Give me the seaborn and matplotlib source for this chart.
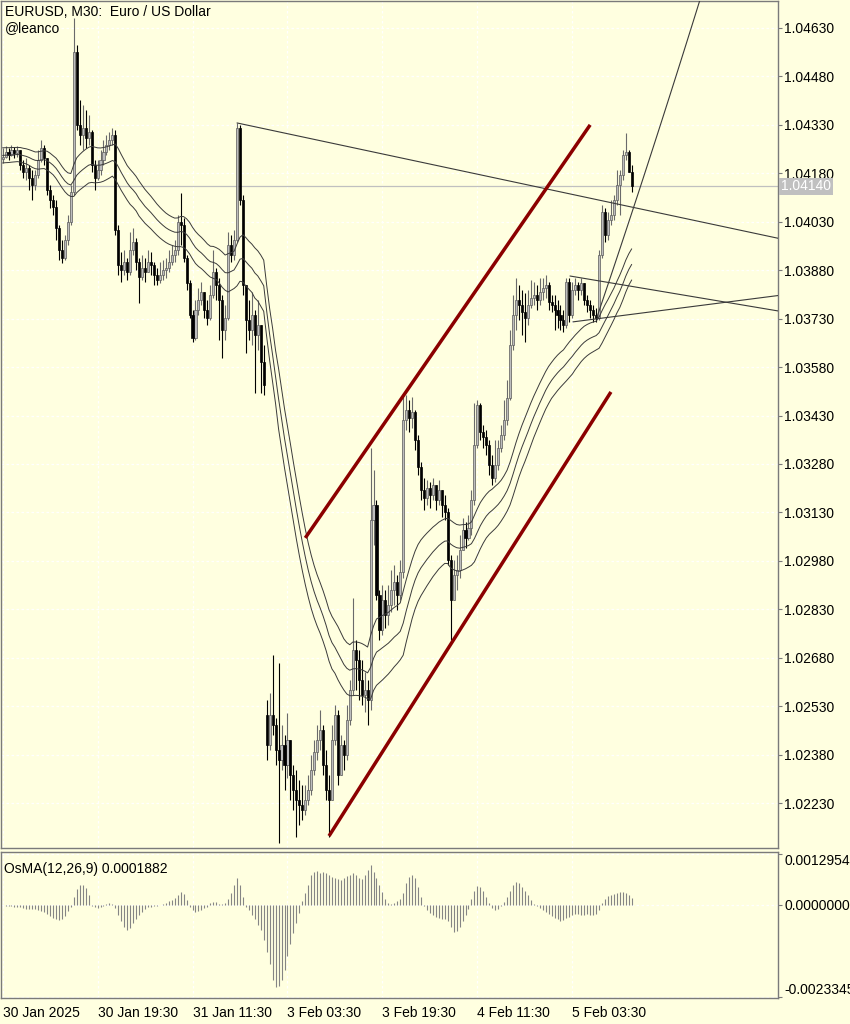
import numpy as np
import pandas as pd
import matplotlib
matplotlib.use("Agg")
import matplotlib.pyplot as plt
import matplotlib.transforms as mtransforms
import seaborn as sns

# EURUSD M30, one value per bar, 30 Jan 2025 03:30 -> 5 Feb 2025 13:30
closes = [
    1.04231, 1.04246, 1.04237, 1.04252, 1.04243, 1.04252, 1.04206, 1.04184, 1.04197, 1.04166,
    1.04144, 1.04175, 1.04221, 1.04259, 1.04228, 1.04129, 1.04098, 1.04076, 1.04011, 1.03943,
    1.03918, 1.03974, 1.04030, 1.04122, 1.04556, 1.04330, 1.04299, 1.04321, 1.04290, 1.04308,
    1.04206, 1.04166, 1.04191, 1.04221, 1.04246, 1.04268, 1.04283, 1.04299, 1.04005, 1.03896,
    1.03881, 1.03906, 1.03875, 1.03943, 1.03968, 1.03906, 1.03859, 1.03887, 1.03875, 1.03906,
    1.03896, 1.03865, 1.03850, 1.03865, 1.03881, 1.03887, 1.03906, 1.03927, 1.03943, 1.04030,
    1.04020, 1.03918, 1.03841, 1.03742, 1.03670, 1.03757, 1.03788, 1.03813, 1.03757, 1.03732,
    1.03803, 1.03875, 1.03834, 1.03788, 1.03695, 1.03732, 1.03958, 1.03927, 1.03974, 1.04321,
    1.04098, 1.03834, 1.03726, 1.03695, 1.03742, 1.03680, 1.03711, 1.03596, 1.03525, 1.02410,
    1.02503, 1.02472, 1.02394, 1.02364, 1.02410, 1.02348, 1.02425, 1.02317, 1.02271, 1.02239,
    1.02224, 1.02209, 1.02239, 1.02271, 1.02333, 1.02388, 1.02425, 1.02456, 1.02348, 1.02271,
    1.02239, 1.02425, 1.02503, 1.02317, 1.02410, 1.02379, 1.02487, 1.02580, 1.02704, 1.02673,
    1.02611, 1.02565, 1.02580, 1.02549, 1.03107, 1.03153, 1.02874, 1.02766, 1.02859, 1.02813,
    1.02844, 1.02890, 1.02915, 1.02874, 1.02946, 1.03416, 1.03447, 1.03423, 1.03441, 1.03354,
    1.03271, 1.03200, 1.03175, 1.03206, 1.03184, 1.03215, 1.03168, 1.03200, 1.03153, 1.03131,
    1.02983, 1.02859, 1.02936, 1.02952, 1.03014, 1.03076, 1.03051, 1.03082, 1.03168, 1.03339,
    1.03463, 1.03379, 1.03364, 1.03339, 1.03277, 1.03237, 1.03277, 1.03330, 1.03370, 1.03416,
    1.03484, 1.03649, 1.03742, 1.03788, 1.03772, 1.03751, 1.03732, 1.03772, 1.03794, 1.03803,
    1.03788, 1.03813, 1.03825, 1.03834, 1.03782, 1.03772, 1.03757, 1.03742, 1.03726, 1.03711,
    1.03844, 1.03742, 1.03819, 1.03834, 1.03819, 1.03841, 1.03788, 1.03772, 1.03757, 1.03742,
    1.03732, 1.03927, 1.04060, 1.03989, 1.04036, 1.04051, 1.04098, 1.04144, 1.04175, 1.04237,
    1.04246, 1.04184, 1.04140,
]
highs = [
    1.04259, 1.04265, 1.04259, 1.04268, 1.04262, 1.04265, 1.04252, 1.04221, 1.04228, 1.04206,
    1.04191, 1.04191, 1.04252, 1.04283, 1.04268, 1.04221, 1.04144, 1.04113, 1.04098, 1.04020,
    1.03974, 1.03989, 1.04051, 1.04144, 1.04661, 1.04578, 1.04407, 1.04392, 1.04376, 1.04361,
    1.04314, 1.04221, 1.04221, 1.04252, 1.04283, 1.04299, 1.04308, 1.04321, 1.04314, 1.04020,
    1.03937, 1.03943, 1.03918, 1.03999, 1.04011, 1.03980, 1.03918, 1.03927, 1.03918, 1.03943,
    1.03937, 1.03906, 1.03887, 1.03906, 1.03912, 1.03918, 1.03943, 1.03958, 1.03974, 1.04051,
    1.04119, 1.04042, 1.03927, 1.03850, 1.03757, 1.03788, 1.03825, 1.03844, 1.03813, 1.03788,
    1.03834, 1.03943, 1.03887, 1.03856, 1.03803, 1.03772, 1.03999, 1.03989, 1.04005, 1.04336,
    1.04330, 1.04113, 1.03834, 1.03788, 1.03813, 1.03757, 1.03788, 1.03695, 1.03649, 1.02549,
    1.02571, 1.02689, 1.02494, 1.02664, 1.02472, 1.02441, 1.02509, 1.02410, 1.02348, 1.02333,
    1.02301, 1.02286, 1.02286, 1.02317, 1.02379, 1.02425, 1.02472, 1.02518, 1.02472, 1.02394,
    1.02317, 1.02472, 1.02534, 1.02518, 1.02441, 1.02425, 1.02534, 1.02611, 1.02865, 1.02735,
    1.02704, 1.02673, 1.02636, 1.02611, 1.03330, 1.03262, 1.03168, 1.02890, 1.02905, 1.02890,
    1.02905, 1.02952, 1.02967, 1.02936, 1.02983, 1.03488, 1.03494, 1.03478, 1.03488, 1.03447,
    1.03370, 1.03286, 1.03237, 1.03231, 1.03224, 1.03237, 1.03215, 1.03231, 1.03200, 1.03184,
    1.03144, 1.02998, 1.02983, 1.02998, 1.03060, 1.03113, 1.03101, 1.03122, 1.03200, 1.03469,
    1.03478, 1.03469, 1.03401, 1.03385, 1.03354, 1.03308, 1.03354, 1.03354, 1.03401, 1.03478,
    1.03540, 1.03695, 1.03803, 1.03856, 1.03834, 1.03819, 1.03810, 1.03819, 1.03850, 1.03844,
    1.03834, 1.03856, 1.03856, 1.03865, 1.03844, 1.03803, 1.03803, 1.03788, 1.03772, 1.03757,
    1.03856, 1.03856, 1.03844, 1.03856, 1.03844, 1.03856, 1.03834, 1.03803, 1.03788, 1.03772,
    1.03763, 1.03943, 1.04082, 1.04073, 1.04060, 1.04098, 1.04113, 1.04191, 1.04191, 1.04252,
    1.04305, 1.04252, 1.04206,
]
lows = [
    1.04212, 1.04228, 1.04221, 1.04234, 1.04228, 1.04231, 1.04191, 1.04166, 1.04160, 1.04129,
    1.04098, 1.04129, 1.04166, 1.04215, 1.04206, 1.04113, 1.04073, 1.04051, 1.03974, 1.03912,
    1.03903, 1.03912, 1.03958, 1.04020, 1.04113, 1.04314, 1.04268, 1.04252, 1.04259, 1.04268,
    1.04184, 1.04129, 1.04160, 1.04175, 1.04206, 1.04237, 1.04252, 1.04268, 1.03989, 1.03865,
    1.03844, 1.03865, 1.03850, 1.03865, 1.03927, 1.03881, 1.03779, 1.03850, 1.03844, 1.03875,
    1.03865, 1.03834, 1.03834, 1.03841, 1.03850, 1.03856, 1.03875, 1.03896, 1.03906, 1.03927,
    1.03958, 1.03906, 1.03819, 1.03732, 1.03658, 1.03664, 1.03742, 1.03772, 1.03732, 1.03711,
    1.03726, 1.03794, 1.03788, 1.03664, 1.03608, 1.03664, 1.03726, 1.03906, 1.03912, 1.03968,
    1.04082, 1.03803, 1.03624, 1.03664, 1.03649, 1.03500, 1.03633, 1.03500, 1.03494, 1.02364,
    1.02394, 1.02441, 1.02348, 1.02106, 1.02333, 1.02271, 1.02308, 1.02239, 1.02209, 1.02125,
    1.02162, 1.02178, 1.02193, 1.02224, 1.02255, 1.02317, 1.02364, 1.02394, 1.02317, 1.02239,
    1.02125, 1.02239, 1.02410, 1.02286, 1.02348, 1.02333, 1.02364, 1.02472, 1.02565, 1.02580,
    1.02549, 1.02534, 1.02512, 1.02472, 1.02518, 1.03029, 1.02859, 1.02735, 1.02751, 1.02772,
    1.02782, 1.02822, 1.02844, 1.02828, 1.02859, 1.02927, 1.03385, 1.03379, 1.03392, 1.03323,
    1.03246, 1.03168, 1.03137, 1.03153, 1.03144, 1.03168, 1.03137, 1.03153, 1.03116, 1.03107,
    1.02967, 1.02735, 1.02859, 1.02890, 1.02927, 1.03029, 1.03020, 1.03045, 1.03060, 1.03153,
    1.03330, 1.03354, 1.03330, 1.03308, 1.03246, 1.03215, 1.03224, 1.03262, 1.03317, 1.03354,
    1.03401, 1.03478, 1.03633, 1.03695, 1.03726, 1.03680, 1.03658, 1.03711, 1.03763, 1.03772,
    1.03757, 1.03772, 1.03788, 1.03794, 1.03757, 1.03751, 1.03695, 1.03701, 1.03695, 1.03689,
    1.03701, 1.03720, 1.03732, 1.03803, 1.03788, 1.03803, 1.03772, 1.03751, 1.03732, 1.03720,
    1.03720, 1.03726, 1.03918, 1.03968, 1.03974, 1.04020, 1.04036, 1.04082, 1.04051, 1.04160,
    1.04221, 1.04184, 1.04122,
]
first_open = 1.04225
monday_bar = 89          # first bar of 3 Feb, opens with the weekend gap
monday_open = 1.02503

# OsMA(12,26,9) histogram, in units of 1e-4
osma_e4 = [
    -0.1, -0.2, -0.2, -0.3, -0.4, -0.5, -0.6, -0.8, -0.9, -1.0,
    -1.1, -1.0, -1.2, -1.5, -1.8, -2.2, -2.8, -3.3, -3.6, -3.8,
    -3.6, -2.8, -1.5, -0.5, 2.0, 4.0, 5.0, 5.1, 4.3, 2.5,
    -0.3, -0.6, -0.8, -0.6, -0.3, 0.2, 0.4, 0.3, -0.8, -2.5,
    -4.0, -5.5, -6.4, -5.8, -4.5, -3.5, -2.5, -1.8, -1.0, -0.6,
    -0.4, -0.3, -0.2, -0.1, 0.3, 0.6, 0.9, 1.3, 1.8, 2.6,
    3.4, 2.8, 1.2, -0.5, -1.2, -1.7, -1.6, -1.2, -0.8, -0.4,
    0.4, 0.8, 0.7, 0.3, 0.3, 0.6, 1.5, 3.0, 5.0, 6.8,
    5.2, 2.0, -0.5, -1.3, -2.5, -3.5, -5.0, -6.4, -9.0, -12.0,
    -15.0, -19.0, -20.9, -20.5, -19.0, -16.5, -13.0, -10.0, -7.0, -4.5,
    -2.0, 1.0, 3.0, 5.0, 7.6, 8.5, 8.6, 8.2, 8.5, 8.0,
    7.6, 7.2, 6.8, 6.5, 6.3, 6.8, 7.3, 7.6, 8.0, 7.6,
    6.8, 6.5, 7.6, 9.0, 10.2, 8.5, 6.8, 5.0, 3.2, 1.5,
    0.5, 0.3, 0.5, 1.0, 1.5, 3.0, 5.5, 7.0, 7.6, 6.8,
    4.5, 2.0, -0.3, -1.3, -2.0, -2.5, -3.0, -3.2, -3.5, -3.6,
    -4.0, -5.5, -6.8, -6.5, -5.5, -4.0, -2.5, -1.0, 1.5, 3.5,
    4.7, 4.5, 3.5, 2.0, 0.5, -0.8, -1.3, -1.0, -0.3, 0.8,
    2.0, 3.5, 5.0, 5.9, 5.5, 4.5, 3.5, 2.5, 1.2, 0.3,
    -0.3, -0.8, -1.3, -1.8, -2.3, -2.8, -3.2, -3.6, -4.0, -3.8,
    -3.4, -3.0, -2.5, -2.3, -2.2, -2.5, -2.5, -2.3, -2.5, -2.6,
    -2.3, -1.2, 0.5, 1.5, 2.2, 2.5, 2.8, 3.0, 3.2, 3.4,
    3.0, 2.5, 1.882,
]

time_ticks = [0, 32, 64, 96, 128, 160, 192]
time_labels = ["30 Jan 2025", "30 Jan 19:30", "31 Jan 11:30", "3 Feb 03:30",
               "3 Feb 19:30", "4 Feb 11:30", "5 Feb 03:30"]
price_ticks = [1.04630, 1.04480, 1.04330, 1.04180, 1.04030, 1.03880, 1.03730, 1.03580, 1.03430,
               1.03280, 1.03130, 1.02980, 1.02830, 1.02680, 1.02530, 1.02380, 1.02230]
osma_ticks = [0.0012954, 0.0, -0.0023345]
osma_tick_labels = ["0.0012954", "0.0000000", "-0.0023345"]
bid = 1.04140

# objects drawn on the chart, (bar, price) anchors
trend_top = [(79, 1.04336), (200, 1.04099)]        # ray to the right
channel_upper = [(102, 1.03051), (198, 1.04330)]
channel_lower = [(110, 1.02128), (205, 1.03503)]
wedge_top = [(191.2, 1.03862), (210, 1.03833)]     # ray
wedge_bottom = [(192.2, 1.03720), (210, 1.03741)]  # ray
curve_pts = [(200.3, 1.03735), (214.8, 1.04135), (235.0, 1.04717)]

bg = "#FFFFE0"
frame = "#7a7a7a"

sns.set_theme(style="white")
plt.rcParams["font.family"] = ["Liberation Sans", "DejaVu Sans"]
plt.rcParams["font.size"] = 10

df = pd.DataFrame({"bar": np.arange(len(closes)), "close": closes, "high": highs, "low": lows})
df["open"] = df["close"].shift(1).fillna(first_open)
df.loc[monday_bar, "open"] = monday_open
df["high"] = df[["high", "open", "close"]].max(axis=1)
df["low"] = df[["low", "open", "close"]].min(axis=1)
df["osma"] = np.array(osma_e4) * 1e-4

# moving average band: EMA of high / median / low
span = 34
df["ma_up"] = df["high"].ewm(span=span, adjust=False).mean()
df["ma_mid"] = ((df["high"] + df["low"]) / 2).ewm(span=span, adjust=False).mean()
df["ma_dn"] = df["low"].ewm(span=span, adjust=False).mean()

fig = plt.figure(figsize=(8.5, 10.24), dpi=100, facecolor=bg)
ax = fig.add_axes([0.6 / 850, 176 / 1024, 777.4 / 850, 847 / 1024], facecolor=bg)
ax2 = fig.add_axes([0.6 / 850, 26 / 1024, 777.4 / 850, 146 / 1024], facecolor=bg, sharex=ax)

x_right = 261.3
ax.set_xlim(-0.67, x_right)
ax.set_ylim(1.020908, 1.047136)
ax2.set_ylim(-0.002362, 0.001346)

for a in (ax, ax2):
    for s in a.spines.values():
        s.set_color(frame)
        s.set_linewidth(1.0)
    a.set_axisbelow(True)
    a.grid(True, color="white", linestyle=(0, (2, 2)), linewidth=0.9)

# bid line
ax.axhline(bid, color="#c0c0c0", linewidth=0.9, zorder=1)

# candles
up = df["close"] >= df["open"]
dn = ~up
ax.vlines(df.loc[up, "bar"], df.loc[up, "low"], df.loc[up, "high"], color="#6a6a6a", linewidth=0.8, zorder=2)
ax.vlines(df.loc[dn, "bar"], df.loc[dn, "low"], df.loc[dn, "high"], color="black", linewidth=0.8, zorder=2)
body = (df["close"] - df["open"]).abs().clip(lower=0.000012)
bottom = df[["open", "close"]].min(axis=1)
ax.bar(df.loc[up, "bar"], body[up], bottom=bottom[up], width=0.7, color="#bdbdbd",
       edgecolor="#5a5a5a", linewidth=0.5, zorder=3)
ax.bar(df.loc[dn, "bar"], body[dn], bottom=bottom[dn], width=0.7, color="black",
       edgecolor="black", linewidth=0.5, zorder=3)

# MA lines
for col in ("ma_up", "ma_mid", "ma_dn"):
    sns.lineplot(data=df, x="bar", y=col, ax=ax, color="#3a3a3a", linewidth=0.7, zorder=4)


def ray(pts, x_end):
    (x0, y0), (x1, y1) = pts
    slope = (y1 - y0) / (x1 - x0)
    return [x0, x_end], [y0, y0 + slope * (x_end - x0)]


for pts in (trend_top, wedge_top, wedge_bottom):
    xs, ys = ray(pts, x_right)
    ax.plot(xs, ys, color="#3a3a3a", linewidth=0.8, zorder=5)

for pts in (channel_upper, channel_lower):
    ax.plot([p[0] for p in pts], [p[1] for p in pts], color="#8b0000", linewidth=2.5,
            solid_capstyle="butt", zorder=5)

cx = [p[0] for p in curve_pts]
cy = [p[1] for p in curve_pts]
coef = np.polyfit(cx, cy, 2)
xx = np.linspace(cx[0], cx[-1] + 6, 80)
ax.plot(xx, np.polyval(coef, xx), color="#3a3a3a", linewidth=0.8, zorder=5)

ax.set_xlabel("")
ax.set_ylabel("")

# price axis
ax.yaxis.tick_right()
ax.set_yticks(price_ticks)
ax.set_yticklabels([f"{p:.5f}" for p in price_ticks])
ax.tick_params(axis="y", direction="out", length=3, width=0.8, color=frame, pad=1.5,
               labelsize=10, labelcolor="black")
ax.set_xticks(time_ticks)
ax.tick_params(axis="x", length=0, labelbottom=False)

trans = mtransforms.blended_transform_factory(ax.transAxes, ax.transData)
ax.text(1.004, bid, f"{bid:.5f}", transform=trans, ha="left", va="center", color="white",
        fontsize=10, bbox=dict(boxstyle="square,pad=0.12", fc="#c0c0c0", ec="none"), zorder=6)

ax.text(0.006, 0.9955, "EURUSD, M30:  Euro / US Dollar", transform=ax.transAxes,
        ha="left", va="top", fontsize=10, color="black")
ax.text(0.006, 0.976, "@leanco", transform=ax.transAxes, ha="left", va="top",
        fontsize=10, color="black")

# OsMA panel
ax2.vlines(df["bar"], 0, df["osma"], color="#858585", linewidth=0.8, zorder=2)
ax2.set_xlabel("")
ax2.set_ylabel("")
ax2.yaxis.tick_right()
ax2.set_yticks(osma_ticks)
ax2.set_yticklabels(osma_tick_labels)
ax2.tick_params(axis="y", direction="out", length=3, width=0.8, color=frame, pad=1.5,
                labelsize=10, labelcolor="black")
lbls = ax2.get_yticklabels()
lbls[0].set_verticalalignment("top")
lbls[2].set_verticalalignment("bottom")
ax2.set_xticks(time_ticks)
ax2.set_xticklabels(time_labels)
for t in ax2.get_xticklabels():
    t.set_horizontalalignment("left")
ax2.tick_params(axis="x", direction="out", length=4, width=0.8, color=frame, pad=2,
                labelsize=10, labelcolor="black")
ax2.text(0.005, 0.93, f"OsMA(12,26,9) {osma_e4[-1] * 1e-4:.7f}", transform=ax2.transAxes,
         ha="left", va="top", fontsize=10, color="black")

fig.savefig("out.png", dpi=100, facecolor=bg)
